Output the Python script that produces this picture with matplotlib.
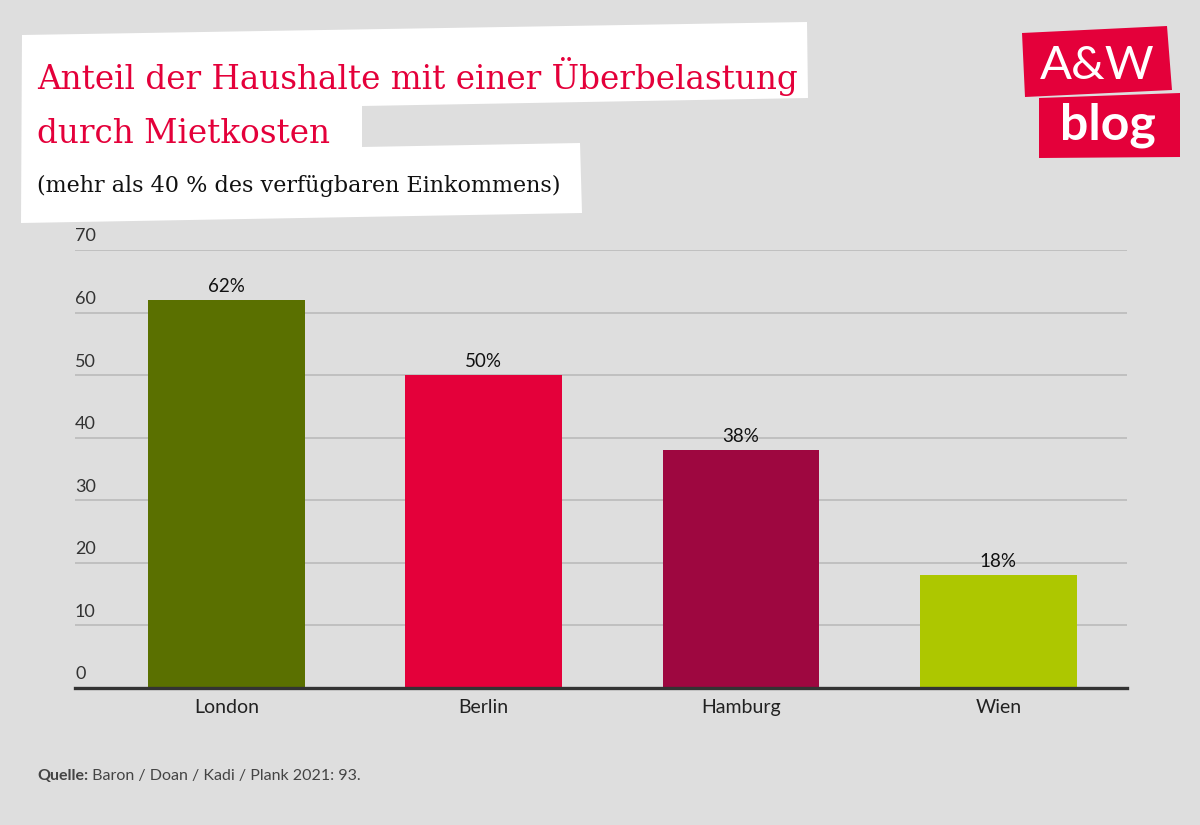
import matplotlib.pyplot as plt
from matplotlib.patches import Polygon
from matplotlib.transforms import blended_transform_factory, offset_copy

# data
cities = ['London', 'Berlin', 'Hamburg', 'Wien']
shares = [62, 50, 38, 18]
bar_colors = ['#5a7000', '#e4003a', '#9e0740', '#adc700']
y_ticks = [0, 10, 20, 30, 40, 50, 60, 70]

title_1 = 'Anteil der Haushalte mit einer Überbelastung'
title_2 = 'durch Mietkosten'
subtitle = '(mehr als 40 % des verfügbaren Einkommens)'
source_bold = 'Quelle:'
source_rest = ' Baron / Doan / Kadi / Plank 2021: 93.'

BG = '#dedede'
RED = '#e4003a'
W, H = 1200, 825

fig = plt.figure(figsize=(12, 8.25), dpi=100)
fig.patch.set_facecolor(BG)


def px(pts):
    # pixel coords (top-left origin) -> figure fraction
    return [(x / W, 1 - y / H) for x, y in pts]


# white title background
title_box = [(22, 35), (807, 22), (808, 98), (362, 106), (362, 147),
             (580, 143), (582, 213), (21, 223)]
fig.patches.append(Polygon(px(title_box), closed=True, transform=fig.transFigure,
                           facecolor='white', edgecolor='none', zorder=0))

fig.text(37 / W, 1 - 89 / H, title_1, family='DejaVu Serif', fontsize=23.5,
         color=RED, va='baseline', ha='left')
fig.text(37 / W, 1 - 143 / H, title_2, family='DejaVu Serif', fontsize=23.5,
         color=RED, va='baseline', ha='left')
fig.text(37 / W, 1 - 192 / H, subtitle, family='DejaVu Serif', fontsize=16,
         color='#111111', va='baseline', ha='left')

# logo
logo_top = [(1022, 33), (1167, 26), (1172, 90), (1025, 97)]
logo_bot = [(1039, 98), (1180, 93), (1180, 157), (1039, 158)]
for poly in (logo_top, logo_bot):
    fig.patches.append(Polygon(px(poly), closed=True, transform=fig.transFigure,
                               facecolor=RED, edgecolor='none', zorder=0))
fig.text(1097 / W, 1 - 66 / H, 'A&W', family='Lato', fontsize=34,
         color='white', ha='center', va='center')
fig.text(1108 / W, 1 - 125 / H, 'blog', family='Lato', fontweight='bold',
         fontsize=36, color='white', ha='center', va='center')

# chart
ax = fig.add_axes([75 / W, 1 - 688 / H, (1127 - 75) / W, (688 - 250) / H])
ax.set_facecolor(BG)
x = list(range(len(cities)))
bars = ax.bar(x, shares, width=0.61, color=bar_colors, zorder=3)
ax.set_xlim(-0.588, 3.5)
ax.set_ylim(0, 70)

ax.set_yticks(y_ticks)
ax.set_yticklabels([])
ax.tick_params(axis='y', length=0)
ax.grid(axis='y', color='#bdbdbd', linewidth=1.3, zorder=0)
trans = offset_copy(blended_transform_factory(ax.transAxes, ax.transData),
                    fig=fig, x=0, y=4, units='points')
for t in y_ticks:
    ax.text(0, t, str(t), transform=trans, ha='left', va='bottom',
            family='Lato', fontsize=13, color='#333333')

ax.set_xticks(x)
ax.set_xticklabels(cities, family='Lato', fontsize=14, color='#222222')
ax.tick_params(axis='x', length=0, pad=8)

for s in ['top', 'right', 'left']:
    ax.spines[s].set_visible(False)
ax.spines['bottom'].set_color('#333333')
ax.spines['bottom'].set_linewidth(2.4)
ax.spines['bottom'].set_zorder(4)

for xi, v in zip(x, shares):
    ax.annotate(f'{v}%', (xi, v), xytext=(0, 4), textcoords='offset points',
                ha='center', va='bottom', family='Lato', fontsize=13.5,
                color='#111111')

# source
src = fig.text(37 / W, 1 - 776 / H, source_bold, family='Lato', fontweight='bold',
               fontsize=11.5, color='#444444', va='center', ha='left')
fig.canvas.draw()
bb = src.get_window_extent()
fig.text(bb.x1 / W, 1 - 776 / H, source_rest, family='Lato', fontsize=11.5,
         color='#444444', va='center', ha='left')

fig.savefig('out.png', dpi=100, facecolor=BG)
